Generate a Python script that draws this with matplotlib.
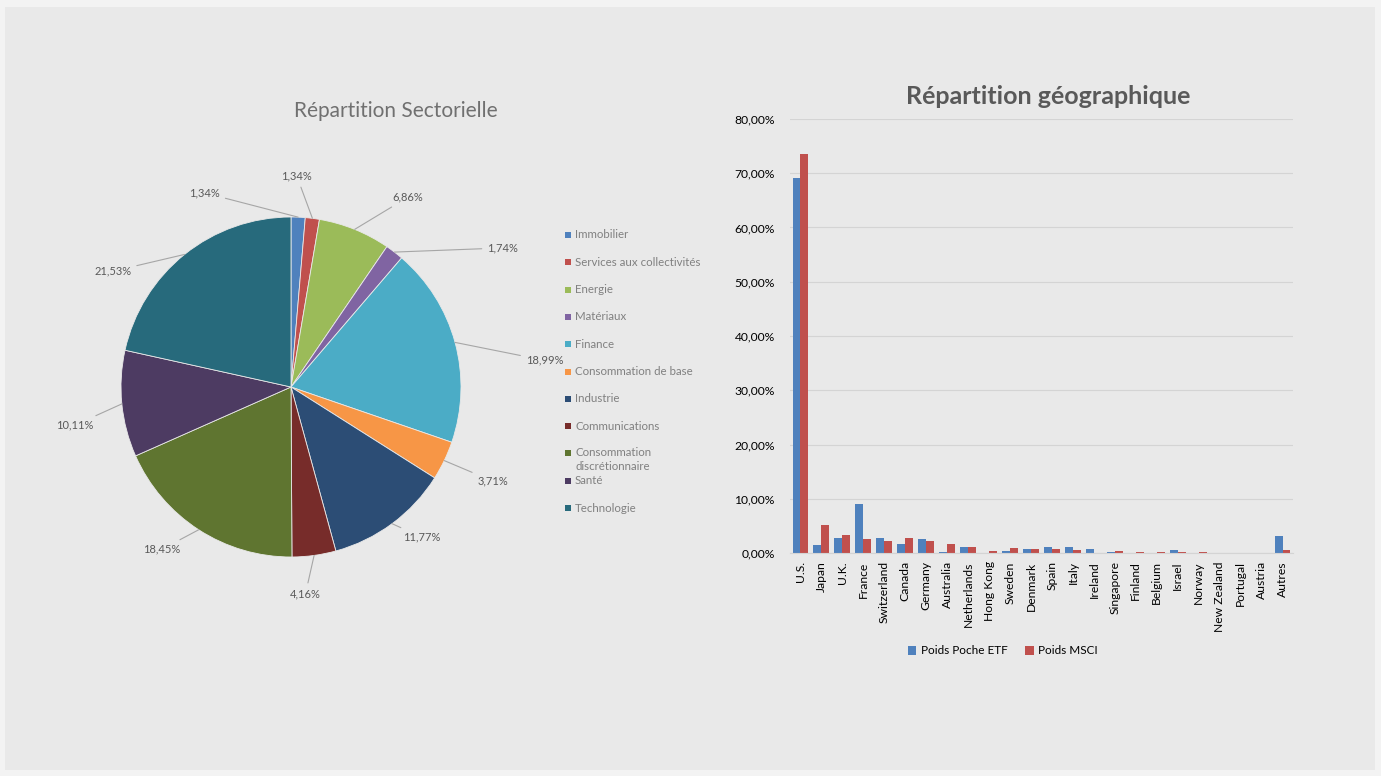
import numpy as np
import matplotlib
matplotlib.use('Agg')
import matplotlib.pyplot as plt
from matplotlib.patches import Rectangle
from matplotlib.ticker import FuncFormatter

plt.rcParams['font.family'] = ['Lato', 'DejaVu Sans']

# ---- données : répartition sectorielle ----
secteurs = ['Immobilier', 'Services aux collectivités', 'Energie', 'Matériaux',
            'Finance', 'Consommation de base', 'Industrie', 'Communications',
            'Consommation\ndiscrétionnaire', 'Santé', 'Technologie']
poids_secteurs = [1.34, 1.34, 6.86, 1.74, 18.99, 3.71, 11.77, 4.16, 18.45, 10.11, 21.53]
couleurs_secteurs = ['#4F81BD', '#C0504D', '#9BBB59', '#8064A2', '#4BACC6', '#F79646',
                     '#2C4D75', '#772C2A', '#5F7530', '#4D3B62', '#276A7C']

# position des étiquettes (angle depuis le haut en degrés, rayon relatif)
label_angles = [-24, 1.6, 31.6, 56.7, 84, 115, 139, 176, 218.5, 260, 303]
label_radius = [1.25, 1.24, 1.31, 1.49, 1.50, 1.31, 1.17, 1.22, 1.22, 1.29, 1.25]

# ---- données : répartition géographique ----
pays = ['U.S.', 'Japan', 'U.K.', 'France', 'Switzerland', 'Canada', 'Germany',
        'Australia', 'Netherlands', 'Hong Kong', 'Sweden', 'Denmark', 'Spain',
        'Italy', 'Ireland', 'Singapore', 'Finland', 'Belgium', 'Israel', 'Norway',
        'New Zealand', 'Portugal', 'Austria', 'Autres']
poids_etf = [69.2, 1.5, 2.8, 9.1, 2.8, 1.7, 2.6, 0.2, 1.05, 0.05, 0.4, 0.8, 1.1,
             1.1, 0.8, 0.15, 0.0, 0.05, 0.6, 0.0, 0.0, 0.0, 0.0, 3.2]
poids_msci = [73.5, 5.1, 3.3, 2.6, 2.3, 2.8, 2.3, 1.65, 1.05, 0.43, 0.85, 0.65, 0.65,
              0.6, 0.0, 0.4, 0.25, 0.25, 0.2, 0.2, 0.05, 0.05, 0.05, 0.5]

W, H = 1381, 776
TXT = '#595959'


def fx(px):
    return px / W


def fy(py):
    return 1 - py / H


fig = plt.figure(figsize=(W / 100, H / 100), dpi=100, facecolor='#F3F3F3')
fig.patches.append(Rectangle((fx(5), fy(770)), fx(1370), 763 / H,
                             transform=fig.transFigure, facecolor='#E9E9E9',
                             edgecolor='none', zorder=-10))

# ---- camembert ----
cx, cy, r = 291, 387, 170
ax1 = fig.add_axes([fx(cx - r), fy(cy + r), 2 * r / W, 2 * r / H])
ax1.set_facecolor('none')
wedges, _ = ax1.pie(poids_secteurs, colors=couleurs_secteurs, startangle=90,
                    counterclock=False, radius=1.0,
                    wedgeprops=dict(edgecolor='#E9E9E9', linewidth=0.6))
ax1.set_xlim(-1, 1)
ax1.set_ylim(-1, 1)

cum = np.cumsum([0] + poids_secteurs)
for i, v in enumerate(poids_secteurs):
    mid = np.deg2rad((cum[i] + cum[i + 1]) / 2 * 3.6)
    la = np.deg2rad(label_angles[i])
    tx, ty = label_radius[i] * np.sin(la), label_radius[i] * np.cos(la)
    ex, ey = np.sin(mid), np.cos(mid)
    txt = f'{v:.2f}%'.replace('.', ',')
    ax1.annotate(txt, xy=(ex, ey), xytext=(tx, ty), ha='center', va='center',
                 fontsize=8, color=TXT, annotation_clip=False,
                 arrowprops=dict(arrowstyle='-', color='#A6A6A6', lw=0.8,
                                 shrinkA=2, shrinkB=0))

fig.text(fx(396), fy(111), 'Répartition Sectorielle', ha='center', va='center',
         fontsize=15, color='#707070')

# légende du camembert
for i, (nom, c) in enumerate(zip(secteurs, couleurs_secteurs)):
    y = 235 + i * 27.3
    fig.patches.append(Rectangle((fx(565), fy(y + 3)), 6 / W, 6 / H,
                                 transform=fig.transFigure, facecolor=c,
                                 edgecolor='none'))
    if '\n' in nom:
        fig.text(fx(575), fy(y - 6), nom, ha='left', va='top',
                 fontsize=8.3, color='#808080', linespacing=1.3)
    else:
        fig.text(fx(575), fy(y), nom, ha='left', va='center',
                 fontsize=8.3, color='#808080')

# ---- histogramme ----
ax2 = fig.add_axes([fx(790), fy(553), 503 / W, 434 / H])
ax2.set_facecolor('none')
x = np.arange(len(pays))
bw = 0.38
ax2.bar(x - bw / 2, np.array(poids_etf) / 100, bw, color='#4F81BD',
        label='Poids Poche ETF', zorder=3)
ax2.bar(x + bw / 2, np.array(poids_msci) / 100, bw, color='#C0504D',
        label='Poids MSCI', zorder=3)
ax2.set_xlim(-0.5, len(pays) - 0.5)
ax2.set_ylim(0, 0.8)
ax2.set_yticks(np.arange(0, 0.81, 0.1))
ax2.yaxis.set_major_formatter(FuncFormatter(lambda v, p: f'{v * 100:.2f}%'.replace('.', ',')))
ax2.set_xticks(x)
ax2.set_xticklabels(pays, rotation=90, fontsize=8.7, color='black')
ax2.tick_params(axis='y', labelsize=8.7, labelcolor='black', length=0, pad=11)
ax2.tick_params(axis='x', length=0, pad=6)
ax2.grid(axis='y', color='#D4D4D4', lw=0.8, zorder=0)
for s in ['top', 'right', 'left']:
    ax2.spines[s].set_visible(False)
ax2.spines['bottom'].set_color('#D4D4D4')
ax2.spines['bottom'].set_zorder(4)

fig.text(fx(1048), fy(97), 'Répartition géographique', ha='center', va='center',
         fontsize=18, fontweight='bold', color=TXT)

fig.legend(*ax2.get_legend_handles_labels(), loc='center',
           bbox_to_anchor=(fx(1003), fy(651)), ncol=2, frameon=False,
           fontsize=8.5, handlelength=0.7, handleheight=0.7, handletextpad=0.4,
           columnspacing=1.5)

fig.savefig('out.png', dpi=100, facecolor=fig.get_facecolor())
